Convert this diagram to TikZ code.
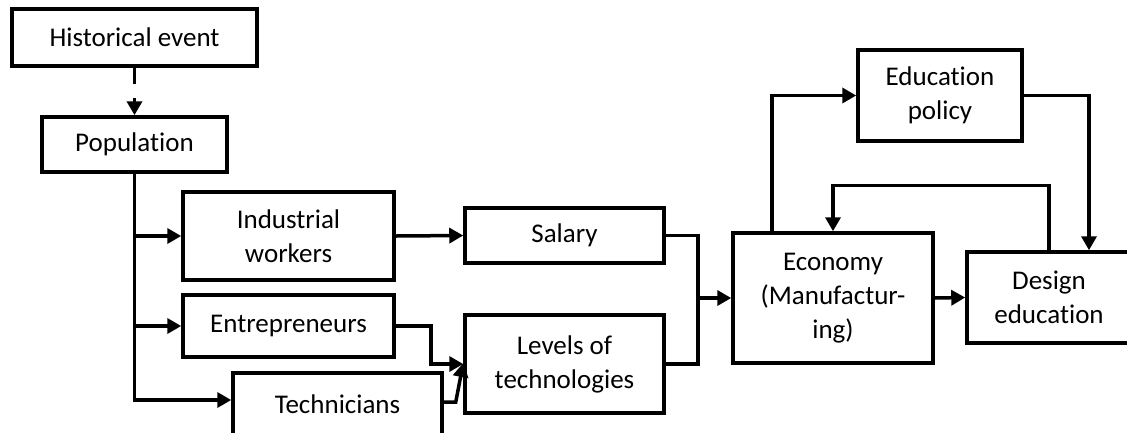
\documentclass[tikz,border=0pt]{standalone}
\usepackage{fontspec}
\setmainfont{Carlito}[Ligatures={NoCommon}]
\usetikzlibrary{arrows.meta}
\begin{document}
\begin{tikzpicture}[x=1pt,y=-1pt,
  box/.style={draw,line width=3.5pt,inner sep=0pt,align=center,
    font=\fontsize{27}{34}\selectfont},
  con/.style={line width=3.5pt},
  arr/.style={con,-{Triangle[length=14pt,width=15pt]}}]
\useasboundingbox (0,0) rectangle (1127,432);
\clip (0,0) rectangle (1127,432);
\fill[white] (0,0) rectangle (1127,432);
\node[box,minimum width=245pt,minimum height=57pt] (he) at (134.5,37.5) {Historical event};
\node[box,minimum width=185pt,minimum height=55pt] (pop) at (134.5,144.5) {Population};
\node[box,minimum width=211pt,minimum height=88pt] (ind) at (288.5,236) {Industrial\\workers};
\node[box,minimum width=211pt,minimum height=62pt] (ent) at (288.5,326) {Entrepreneurs};
\node[box,minimum width=209pt,minimum height=63pt] (tech) at (337.5,404.5) {Technicians};
\node[box,minimum width=199pt,minimum height=55pt] (sal) at (564.5,235.5) {Salary};
\node[box,minimum width=199pt,minimum height=98pt] (lev) at (564.5,364) {Levels of\\technologies};
\node[box,minimum width=200pt,minimum height=130pt] (eco) at (833,298) {Economy\\(Manufactur-\\ing)};
\node[box,minimum width=164pt,minimum height=91pt] (edu) at (940,95.5) {Education\\policy};
\node[box,minimum width=164pt,minimum height=91pt] (des) at (1049,297.5) {Design\\education};
% connectors
\draw[arr,dash pattern=on 16pt off 14pt] (he.south) -- (pop.north);
\draw[arr] (pop.south) |- ([yshift=4.5pt]tech.west);
\draw[arr] (pop.south |- ind.west) -- (ind.west);
\draw[arr] (pop.south |- ent.west) -- (ent.west);
\draw[arr] (ind.east) -- (sal.west);
\draw[arr] (ent.east) -- ++(35,0) |- (lev.west);
\draw[arr] ([yshift=2.5pt]tech.east) -- ++(12,0) -- ([yshift=1pt]lev.west);
\coordinate (m) at (698,298);
\draw[con] (sal.east) -| (m) |- (lev.east);
\draw[arr] (m) -- (eco.west);
\draw[arr] (eco.east) -- (des.west);
\draw[arr] ([xshift=-61pt]eco.north) |- (edu.west);
\draw[arr] (edu.east) -| ([xshift=40pt]des.north);
\draw[arr] (des.north) -- ++(0,-65) -| (eco.north);
\end{tikzpicture}
\end{document}
